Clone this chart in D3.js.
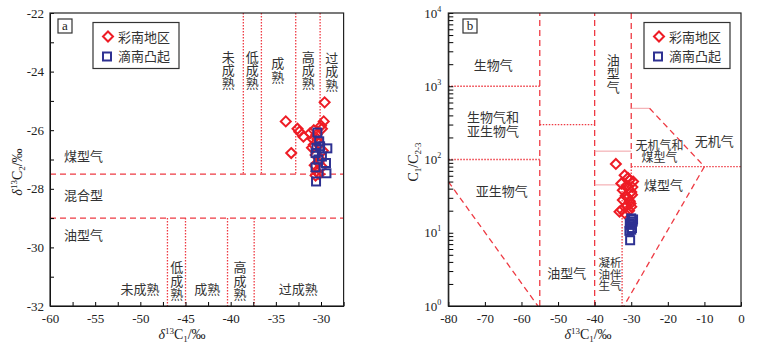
<!DOCTYPE html>
<html><head><meta charset="utf-8">
<script src="https://cdn.jsdelivr.net/npm/d3@7"></script>
<style>
body{margin:0;background:#fff;}
svg{display:block;}
.tick text{font-family:"Liberation Serif","Times New Roman",serif;font-size:13px;fill:#222;}
.cn{font-family:"Noto Sans CJK SC",sans-serif;font-size:13px;fill:#333;}
.ser{font-family:"Liberation Serif","Times New Roman",serif;fill:#222;}
</style></head>
<body><svg id="c" width="762" height="356"></svg>
<script>
// ---------- DATA ----------
// Panel a: δ13C1 (x) vs δ13C2 (y)
const aCainan = [[-29.6,-25.05],[-33.9,-25.7],[-29.7,-25.7],[-32.6,-25.95],[-32.4,-26.05],[-31.95,-26.22],[-30.0,-25.85],[-29.9,-25.95],[-30.8,-26.0],[-31.2,-26.1],[-30.5,-26.15],[-33.3,-26.78],[-30.8,-26.5],[-31.0,-26.6],[-30.2,-26.45],[-30.6,-26.85],[-29.8,-26.7],[-30.1,-27.0],[-30.7,-27.2],[-30.3,-27.1],[-29.9,-27.25],[-30.5,-27.4],[-30.2,-27.5],[-30.6,-27.55],[-30.9,-26.3],[-30.4,-26.3]];
const aDinan = [[-30.4,-26.08],[-30.2,-26.38],[-30.1,-26.55],[-29.3,-26.62],[-30.6,-26.78],[-29.9,-26.9],[-29.45,-27.12],[-30.6,-27.27],[-29.4,-27.47],[-30.55,-27.75],[-30.3,-27.0],[-30.5,-26.6]];
// Panel b: δ13C1 (x) vs C1/C2-3 (y)
const bCainan = [[-34.2,87],[-31.8,61],[-30.9,56],[-29.5,50],[-32.7,47],[-30.5,52],[-31.2,44],[-32.3,38],[-30.0,36],[-30.8,40],[-29.7,42],[-31.5,32],[-32.3,28],[-30.4,27],[-31.0,30],[-29.8,33],[-30.2,25],[-31.3,23.5],[-30.0,22.7],[-33.2,19.4],[-31.8,18.5],[-32.6,20.5],[-30.6,20]];
const bDinan = [[-30.0,15.7],[-29.6,14.2],[-30.4,13.5],[-30.3,12.8],[-29.8,11.6],[-30.5,10.6],[-30.0,11.0],[-30.3,7.9],[-29.5,15.2]];
const legendNames = ["彩南地区","滴南凸起"];
const aXTicks = d3.range(-60,-27.4,2.5);
const aYTicks = d3.range(-32,-21.9,1);
const bXTicks = d3.range(-80,0.1,10);
// boundary lines (data coords) : [x1,y1,x2,y2,style]
const aLines = [
 [-60,-27.5,-27.5,-27.5,"dash"],[-60,-29,-27.5,-29,"dash"],
 [-38.6,-22,-38.6,-27.5,"dot"],[-36.6,-22,-36.6,-27.5,"dot"],[-32.8,-22,-32.8,-27.5,"dot"],[-30.1,-22,-30.1,-27.5,"dot"],
 [-47,-29,-47,-32,"dot"],[-45,-29,-45,-32,"dot"],[-40.35,-29,-40.35,-32,"dot"],[-37.4,-29,-37.4,-32,"dot"]
];
const bLines = [
 [-55,1,-55,10000,"dash"],[-40,1,-40,10000,"dash"],[-30,10000,-30,80,"dash"],
 [-80,1000,-55,1000,"dot"],[-80,100,-55,100,"dot"],[-55,300,-40,300,"dot"],
 [-40,130,-30,130,"thin"],[-30,500,-25,500,"thin"],[-40,45,-32.5,45,"thin"],
 [-30,80,0,80,"dot"],[-30,80,-30,45,"dot"],[-32.5,45,-32.5,1,"dot"],
 [-25,500,-10,80,"dash"],[-10,80,-32,1,"dash"],[-80,50,-55.5,1,"dash"]
];
// text labels [x, y(first line), lines, vertical?, fontSize, lineStep(px)]
const aLabels = [
 [-40.26,-23.49,["未成熟"],true],[-37.61,-23.49,["低成熟"],true],[-34.8,-23.72,["成熟"],true],[-31.41,-23.49,["高成熟"],true],[-28.82,-23.54,["过成熟"],true],
 [-56.3,-26.9,["煤型气"],false],[-56.3,-28.21,["混合型"],false],[-56.3,-29.58,["油型气"],false],
 [-50.04,-31.43,["未成熟"],false],[-45.98,-30.68,["低成熟"],true],[-42.59,-31.45,["成熟"],false],[-38.97,-30.68,["高成熟"],true],[-32.52,-31.45,["过成熟"],false]
];
const bLabels = [
 [-67.7,1950,["生物气"],false,13],[-67.8,377,["生物气和","亚生物气"],false,13,14.4],
 [-34.9,2280,["油型气"],true,13],[-22.3,152,["无机气和","煤型气"],false,12,11.5],[-7.3,175,["无机气"],false,13],
 [-65.4,36.5,["亚生物气"],false,13],[-21.2,44.9,["煤型气"],false,13],[-47.6,2.79,["油型气"],false,13],
 [-35.8,3.86,["凝析","油伴","生气"],false,11.5,11.7]
];

// ---------- DRAW ----------
const svg = d3.select("#c");
const RED="#ee1c25", BLUE="#2e3192", LRED="#ee3a43";
function lineStyle(sel,s){
  if(s==="dash") sel.attr("stroke",LRED).attr("stroke-width",1.3).attr("stroke-dasharray","6,4");
  else if(s==="dot") sel.attr("stroke",LRED).attr("stroke-width",1.3).attr("stroke-dasharray","1.5,1.5");
  else sel.attr("stroke","#f2a0a5").attr("stroke-width",1);
}
function diamond(g,x,y){ g.append("path").attr("d",`M${x},${y-5}L${x+5},${y}L${x},${y+5}L${x-5},${y}Z`).attr("fill","none").attr("stroke",RED).attr("stroke-width",2); }
function square(g,x,y){ g.append("rect").attr("x",x-4).attr("y",y-4).attr("width",8).attr("height",8).attr("fill","none").attr("stroke",BLUE).attr("stroke-width",2); }
function cnText(g,x,y,lines,vert,fs,step){
  fs = fs||13; step = step||fs*1.1;
  if(!vert){
    const t=g.append("text").attr("class","cn").attr("text-anchor","middle").style("font-size",fs+"px");
    lines.forEach((s,i)=>t.append("tspan").attr("x",x).attr("y",y+i*step).attr("dy","0.35em").text(s));
  } else {
    g.append("text").attr("class","cn").attr("x",x).attr("y",y-fs/2).attr("writing-mode","vertical-rl")
     .style("font-size",fs+"px").style("letter-spacing","0.3px").text(lines[0]);
  }
}
function legend(g,x0,y0){
  g.append("rect").attr("x",x0).attr("y",y0).attr("width",86).attr("height",46).attr("fill","#fff").attr("stroke","#333").attr("stroke-width",1.2);
  diamond(g,x0+15,y0+14); square(g,x0+14,y0+34);
  g.append("text").attr("class","cn").attr("x",x0+25).attr("y",y0+15).attr("dy","0.35em").text(legendNames[0]);
  g.append("text").attr("class","cn").attr("x",x0+25).attr("y",y0+34).attr("dy","0.35em").text(legendNames[1]);
}
function tag(g,x,y,t){
  g.append("rect").attr("x",x-7).attr("y",y-7).attr("width",14).attr("height",14).attr("fill","#fff").attr("stroke","#333").attr("stroke-width",1.2);
  g.append("text").attr("class","ser").attr("x",x).attr("y",y+4).attr("text-anchor","middle").style("font-size","13px").text(t);
}
function xLabel(g,x,y){
  const t=g.append("text").attr("class","ser").attr("x",x).attr("y",y).attr("text-anchor","middle").style("font-size","14px");
  t.append("tspan").style("font-style","italic").text("δ");
  t.append("tspan").attr("dy",-5).style("font-size","9px").text("13");
  t.append("tspan").attr("dy",5).text("C");
  t.append("tspan").attr("dy",3).style("font-size","9px").text("1");
  t.append("tspan").attr("dy",-3).text("/‰");
}

// Panel a
const ax = d3.scaleLinear().domain([-60,-27.5]).range([50,343.6]);
const ay = d3.scaleLinear().domain([-32,-22]).range([306,13]);
const ga = svg.append("g");
aLines.forEach(l=>{ lineStyle(ga.append("line").attr("x1",ax(l[0])).attr("y1",ay(l[1])).attr("x2",ax(l[2])).attr("y2",ay(l[3])),l[4]); });
ga.append("g").attr("transform","translate(0,306)")
  .call(d3.axisBottom(ax).tickValues(aXTicks).tickSizeInner(-4).tickSizeOuter(0).tickPadding(8).tickFormat(d=>d%5===0?String(d):""));
ga.append("g").attr("transform","translate(50,0)")
  .call(d3.axisLeft(ay).tickValues(aYTicks).tickSizeInner(-4).tickSizeOuter(0).tickPadding(6).tickFormat(d=>d%2===0?String(d):""));
ga.append("rect").attr("x",50).attr("y",13).attr("width",293.6).attr("height",293).attr("fill","none").attr("stroke","#222").attr("stroke-width",1.2);
aLabels.forEach(l=>cnText(ga,ax(l[0]),ay(l[1]),l[2],l[3],l[4],l[5]));
aCainan.forEach(p=>diamond(ga,ax(p[0]),ay(p[1])));
aDinan.forEach(p=>square(ga,ax(p[0]),ay(p[1])));
legend(ga,93,22.5);
tag(ga,65,26,"a");
xLabel(ga,182,339);
{
 const t=ga.append("text").attr("class","ser").attr("transform","translate(22,172) rotate(-90)").attr("text-anchor","middle").style("font-size","14px");
 t.append("tspan").style("font-style","italic").text("δ");
 t.append("tspan").attr("dy",-5).style("font-size","9px").text("13");
 t.append("tspan").attr("dy",5).text("C");
 t.append("tspan").attr("dy",3).style("font-size","9px").text("2");
 t.append("tspan").attr("dy",-3).text("/‰");
}

// Panel b
const bx = d3.scaleLinear().domain([-80,0]).range([448.3,741]);
const by = d3.scaleLog().domain([1,10000]).range([306,13]);
const gb = svg.append("g");
bLines.forEach(l=>{ lineStyle(gb.append("line").attr("x1",bx(l[0])).attr("y1",by(l[1])).attr("x2",bx(l[2])).attr("y2",by(l[3])),l[4]); });
gb.append("g").attr("transform","translate(0,306)")
  .call(d3.axisBottom(bx).tickValues(bXTicks).tickSizeInner(-4).tickSizeOuter(0).tickPadding(8).tickFormat(d=>String(d)));
const logTicks=[]; for(let e=0;e<4;e++) for(let m=1;m<10;m++) logTicks.push(m*Math.pow(10,e)); logTicks.push(10000);
const yAxB = gb.append("g").attr("transform","translate(448.3,0)")
  .call(d3.axisLeft(by).tickValues(logTicks).tickSizeInner(-5).tickSizeOuter(0).tickPadding(7).tickFormat(()=>""));
yAxB.selectAll(".tick").each(function(d){
  const e=Math.log10(d);
  if(Math.abs(e-Math.round(e))<1e-9){
    const t=d3.select(this).select("text").text(null);
    t.append("tspan").text("10");
    t.append("tspan").attr("dy",-6).style("font-size","8px").text(String(Math.round(e)));
  }
});
gb.append("rect").attr("x",448.3).attr("y",13).attr("width",292.7).attr("height",293).attr("fill","none").attr("stroke","#222").attr("stroke-width",1.2);
bLabels.forEach(l=>cnText(gb,bx(l[0]),by(l[1]),l[2],l[3],l[4],l[5]));
bCainan.forEach(p=>diamond(gb,bx(p[0]),by(p[1])));
bDinan.forEach(p=>square(gb,bx(p[0]),by(p[1])));
legend(gb,644,22.5);
tag(gb,470,26,"b");
xLabel(gb,588,339);
{
 const t=gb.append("text").attr("class","ser").attr("transform","translate(418,162) rotate(-90)").attr("text-anchor","middle").style("font-size","14px");
 t.append("tspan").text("C");
 t.append("tspan").attr("dy",3).style("font-size","9px").text("1");
 t.append("tspan").attr("dy",-3).text("/C");
 t.append("tspan").attr("dy",3).style("font-size","9px").text("2-3");
}
</script></body></html>
